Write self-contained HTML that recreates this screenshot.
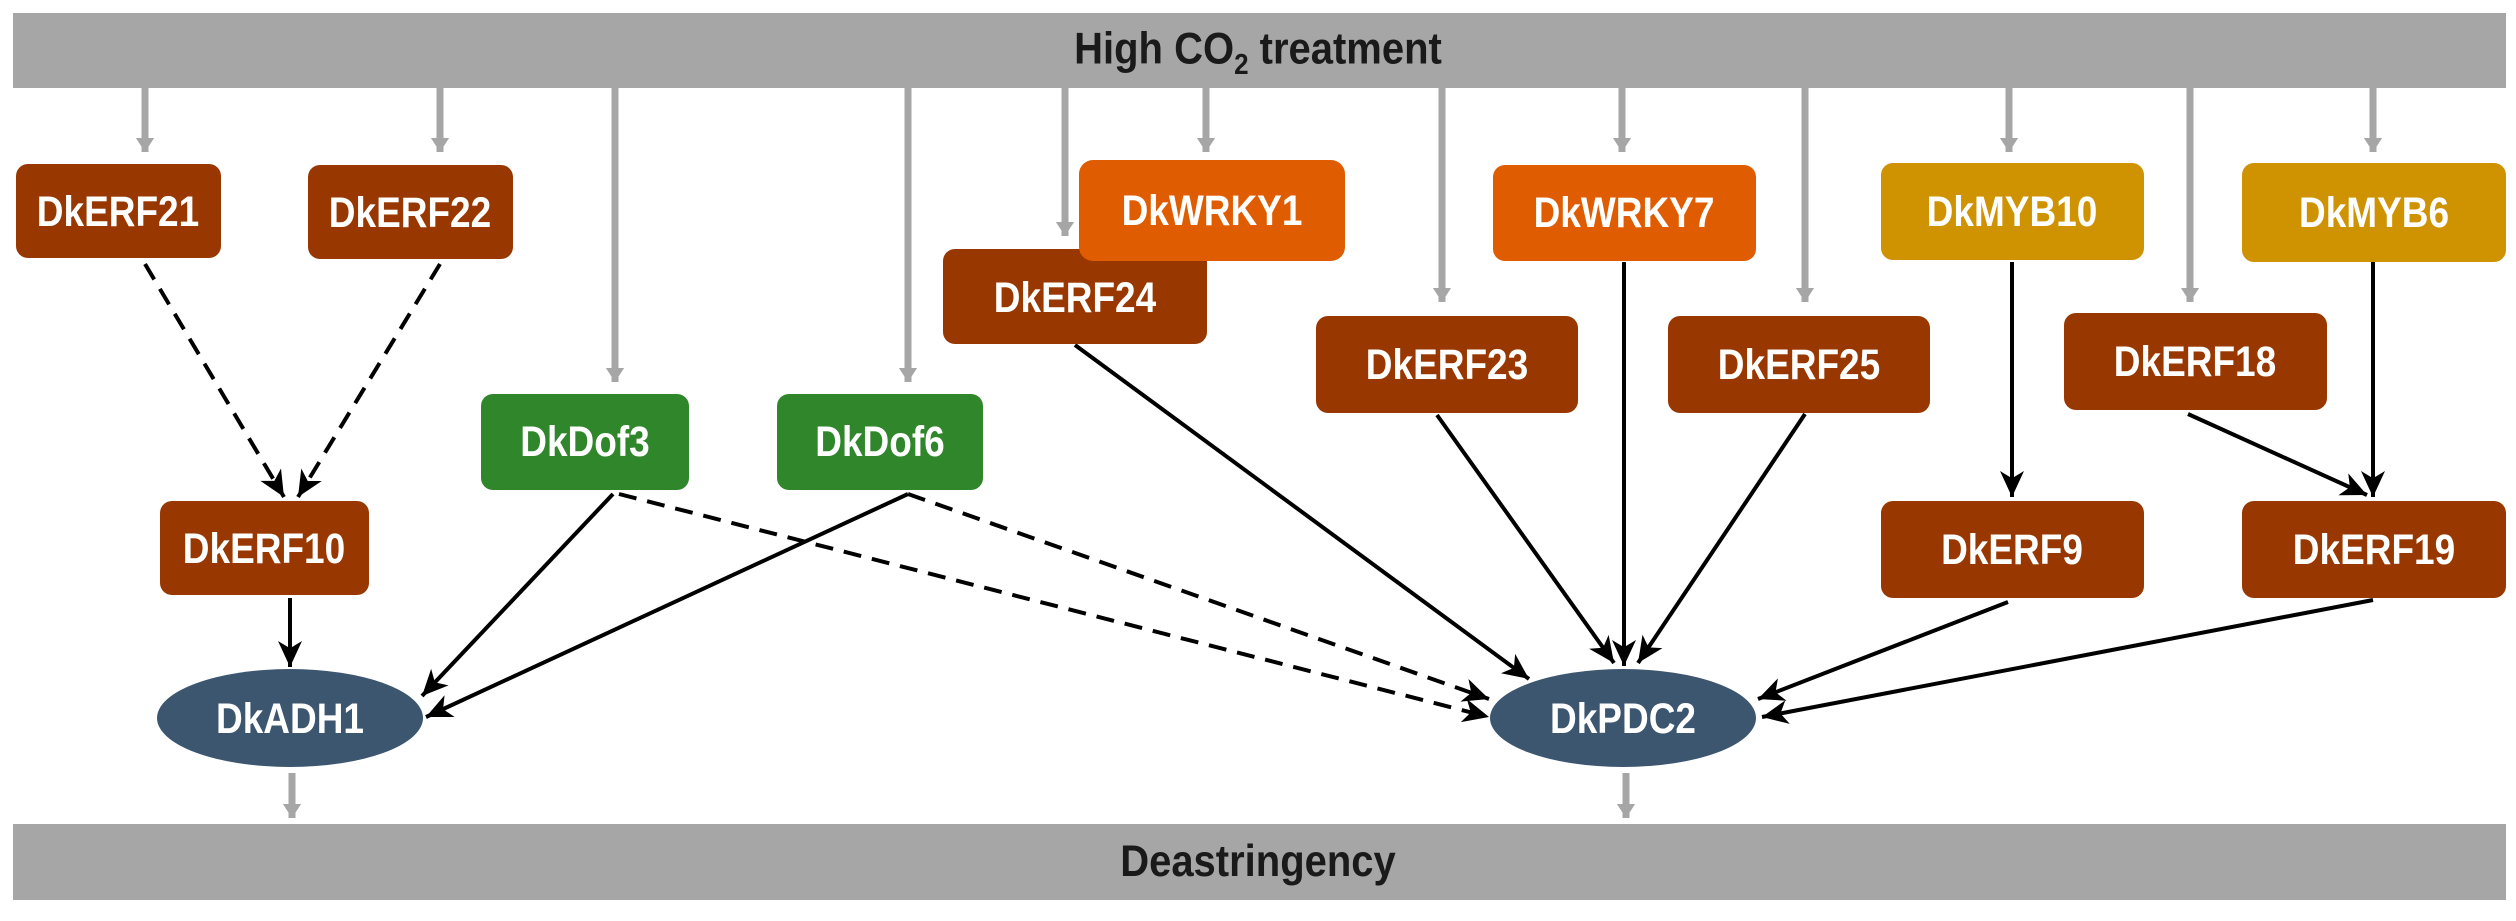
<!DOCTYPE html>
<html><head><meta charset="utf-8"><style>
html,body{margin:0;padding:0;background:#fff;}
svg{display:block;}
text{font-family:"Liberation Sans",sans-serif;font-weight:bold;}
.l{fill:#fff;font-size:37px;text-anchor:middle;}
</style></head><body>
<svg width="2516" height="921" viewBox="0 0 2516 921" xmlns="http://www.w3.org/2000/svg">
<defs>
<marker id="ga" markerWidth="4" markerHeight="4" refX="2" refY="2" orient="auto" markerUnits="strokeWidth"><path d="M0,0.7 L2,2 L0,3.3 z" fill="#a6a6a6"/></marker>
<marker id="ba" markerWidth="8" markerHeight="8" refX="6.5" refY="4" orient="auto" markerUnits="strokeWidth"><path d="M0,1 L6.5,4 L0,7 L1.8,4 z" fill="#000"/></marker>
</defs>
<rect x="13" y="13" width="2493" height="75" fill="#a6a6a6"/>
<rect x="13" y="824" width="2493" height="76" fill="#a6a6a6"/>
<text x="1258" y="64" font-size="40" text-anchor="middle" fill="#1a1a1a" transform="translate(0,-8) scale(1,1.12)">High CO<tspan font-size="26" dy="9">2</tspan><tspan dy="-9"> treatment</tspan></text>
<text x="1258" y="876" font-size="40" text-anchor="middle" fill="#1a1a1a" transform="translate(0,-105) scale(1,1.12)">Deastringency</text>

<g stroke="#a6a6a6" stroke-width="7" fill="none" marker-end="url(#ga)">
<line x1="145" y1="88" x2="145" y2="152"/>
<line x1="440" y1="88" x2="440" y2="152"/>
<line x1="615" y1="88" x2="615" y2="382"/>
<line x1="908" y1="88" x2="908" y2="382"/>
<line x1="1065" y1="88" x2="1065" y2="236"/>
<line x1="1206" y1="88" x2="1206" y2="152"/>
<line x1="1442" y1="88" x2="1442" y2="302"/>
<line x1="1622" y1="88" x2="1622" y2="152"/>
<line x1="1805" y1="88" x2="1805" y2="302"/>
<line x1="2009" y1="88" x2="2009" y2="152"/>
<line x1="2190" y1="88" x2="2190" y2="302"/>
<line x1="2373" y1="88" x2="2373" y2="152"/>
<line x1="292" y1="773" x2="292" y2="818"/>
<line x1="1626" y1="773" x2="1626" y2="818"/>
</g>

<g stroke="#000" stroke-width="4" fill="none" marker-end="url(#ba)">
<line x1="145" y1="264" x2="284" y2="497" stroke-dasharray="18,11"/>
<line x1="440" y1="264" x2="298" y2="497" stroke-dasharray="18,11"/>
<line x1="290" y1="598" x2="290" y2="667"/>
<line x1="613" y1="494" x2="422" y2="696"/>
<line x1="908" y1="494" x2="426" y2="717"/>
<line x1="619" y1="494" x2="1489" y2="717" stroke-dasharray="18,11"/>
<line x1="908" y1="494" x2="1489" y2="699" stroke-dasharray="18,11"/>
<line x1="1075" y1="345" x2="1529" y2="679"/>
<line x1="1437" y1="415" x2="1614" y2="663"/>
<line x1="1624" y1="262" x2="1624" y2="666"/>
<line x1="1805" y1="414" x2="1638" y2="663"/>
<line x1="2012" y1="262" x2="2012" y2="497"/>
<line x1="2373" y1="262" x2="2373" y2="497"/>
<line x1="2188" y1="414" x2="2367" y2="495"/>
<line x1="2008" y1="602" x2="1758" y2="699"/>
<line x1="2373" y1="600" x2="1762" y2="717"/>
</g>

<g>
<rect x="16" y="164" width="205" height="94" rx="12" fill="#983800"/>
<rect x="308" y="165" width="205" height="94" rx="12" fill="#983800"/>
<rect x="481" y="394" width="208" height="96" rx="12" fill="#2f862b"/>
<rect x="777" y="394" width="206" height="96" rx="12" fill="#2f862b"/>
<rect x="160" y="501" width="209" height="94" rx="12" fill="#983800"/>
<rect x="943" y="249" width="264" height="95" rx="12" fill="#983800"/>
<rect x="1079" y="160" width="266" height="101" rx="14" fill="#e05c00"/>
<rect x="1493" y="165" width="263" height="96" rx="12" fill="#e05c00"/>
<rect x="1316" y="316" width="262" height="97" rx="12" fill="#983800"/>
<rect x="1668" y="316" width="262" height="97" rx="12" fill="#983800"/>
<rect x="1881" y="163" width="263" height="97" rx="12" fill="#cf9200"/>
<rect x="2242" y="163" width="264" height="99" rx="12" fill="#cf9200"/>
<rect x="2064" y="313" width="263" height="97" rx="12" fill="#983800"/>
<rect x="1881" y="501" width="263" height="97" rx="12" fill="#983800"/>
<rect x="2242" y="501" width="264" height="97" rx="12" fill="#983800"/>
<ellipse cx="290" cy="718" rx="133" ry="49" fill="#3c5670"/>
<ellipse cx="1623" cy="718" rx="133" ry="49" fill="#3c5670"/>
</g>
<g class="tx">
<text class="l" transform="translate(118,226) scale(1,1.15)">DkERF21</text>
<text class="l" transform="translate(410,227) scale(1,1.15)">DkERF22</text>
<text class="l" transform="translate(585,456) scale(1,1.15)">DkDof3</text>
<text class="l" transform="translate(880,456) scale(1,1.15)">DkDof6</text>
<text class="l" transform="translate(264,563) scale(1,1.15)">DkERF10</text>
<text class="l" transform="translate(1075,312) scale(1,1.15)">DkERF24</text>
<text class="l" transform="translate(1212,225) scale(1,1.15)">DkWRKY1</text>
<text class="l" transform="translate(1624,227) scale(1,1.15)">DkWRKY7</text>
<text class="l" transform="translate(1447,379) scale(1,1.15)">DkERF23</text>
<text class="l" transform="translate(1799,379) scale(1,1.15)">DkERF25</text>
<text class="l" transform="translate(2012,226) scale(1,1.15)">DkMYB10</text>
<text class="l" transform="translate(2374,227) scale(1,1.15)">DkMYB6</text>
<text class="l" transform="translate(2195,376) scale(1,1.15)">DkERF18</text>
<text class="l" transform="translate(2012,564) scale(1,1.15)">DkERF9</text>
<text class="l" transform="translate(2374,564) scale(1,1.15)">DkERF19</text>
<text class="l" transform="translate(290,733) scale(1,1.15)">DkADH1</text>
<text class="l" transform="translate(1623,733) scale(1,1.15)">DkPDC2</text>
</g>
</svg>
</body></html>
